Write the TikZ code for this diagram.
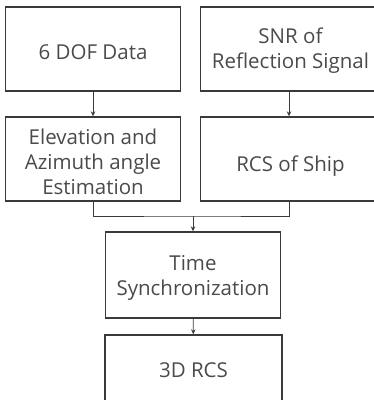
\documentclass[tikz,border=0pt]{standalone}
\usepackage{fontspec}
\setmainfont{Open Sans}
\usetikzlibrary{arrows.meta}
\definecolor{linegray}{HTML}{3A3A3A}
\definecolor{textgray}{HTML}{4A4A4A}
\begin{document}
\begin{tikzpicture}[x=1pt,y=-1pt,
	box/.style={draw=linegray, line width=1.4pt, inner sep=0pt},
	txt/.style={align=center, text=textgray, font=\fontsize{20.5}{25}\selectfont},
	flow/.style={draw=linegray, line width=0.9pt, -{Stealth[length=5pt,width=4.5pt]}}]
		\useasboundingbox (0,0) rectangle (374,400);
		\node[box, minimum width=175pt, minimum height=84pt, label={[txt, yshift=-3pt]center:6 DOF Data}] (dof) at (93,49) {};
		\node[box, minimum width=180pt, minimum height=84pt, label={[txt, yshift=-2pt]center:{SNR of\\Reflection Signal}}] (snr) at (290.5,49) {};
		\node[box, minimum width=175pt, minimum height=84pt, label={[txt, yshift=-3pt]center:{Elevation and\\Azimuth angle\\Estimation}}] (ang) at (93,159) {};
		\node[box, minimum width=180pt, minimum height=84pt, label={[txt, yshift=-7pt]center:RCS of Ship}] (rcs) at (290.5,159) {};
		\node[box, minimum width=175pt, minimum height=86pt, label={[txt, yshift=-3pt]center:{Time\\Synchronization}}] (sync) at (193,275) {};
		\node[box, minimum width=177pt, minimum height=92pt, label={[txt, yshift=11pt]center:3D RCS}] (out) at (193.5,381) {};
		
		\coordinate (mid) at (193,216);
		\draw[flow] (dof.south -| 93,0) to (ang.north -| 93,0);
		\draw[flow] (snr.south -| 289,0) to (rcs.north -| 289,0);
		\draw[draw=linegray, line width=0.9pt] (ang.south -| 93,0) |- (mid) -| (rcs.south -| 289,0);
		\draw[flow] (mid) to (sync.north);
		\draw[flow] (sync) to (out);
		
	\end{tikzpicture}
\end{document}
